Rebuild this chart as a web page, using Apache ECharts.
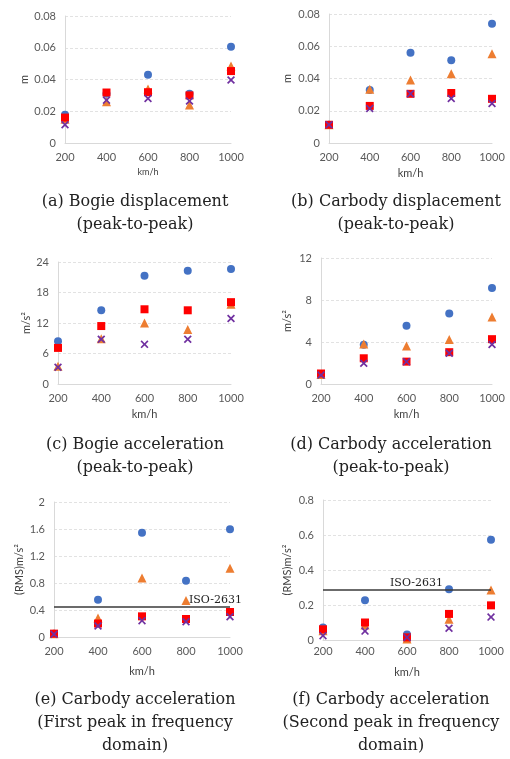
<!DOCTYPE html>
<html>
<head>
<meta charset="utf-8">
<script src="https://cdn.jsdelivr.net/npm/echarts@6/dist/echarts.min.js"></script>
<style>
  html, body { margin: 0; padding: 0; background: #fff; }
  #chart { width: 510px; height: 759px; }
</style>
</head>
<body>
<div id="chart"></div>
<script>
// speeds on the x axis (km/h)
var speeds = [200, 400, 600, 800, 1000];

// (a) bogie displacement, m
var aBlue   = [0.0178, 0.031, 0.043, 0.031, 0.0606];
var aOrange = [0.015, 0.026, 0.034, 0.024, 0.0485];
var aRed    = [0.016, 0.0318, 0.032, 0.030, 0.0453];
var aPurple = [0.0115, 0.027, 0.028, 0.0265, 0.0397];

// (b) carbody displacement, m
var bBlue   = [0.0113, 0.0328, 0.056, 0.0513, 0.074];
var bOrange = [0.0113, 0.0334, 0.039, 0.043, 0.0553];
var bRed    = [0.0113, 0.023, 0.0305, 0.031, 0.0274];
var bPurple = [0.0113, 0.0214, 0.0305, 0.0276, 0.0245];

// (c) bogie acceleration, m/s2
var cBlue   = [8.4, 14.5, 21.3, 22.3, 22.6];
var cOrange = [3.5, 8.9, 12.0, 10.7, 15.7];
var cRed    = [7.1, 11.4, 14.7, 14.5, 16.1];
var cPurple = [3.3, 8.8, 7.8, 8.8, 12.9];

// (d) carbody acceleration, m/s2
var dBlue   = [0.95, 3.73, 5.54, 6.72, 9.14];
var dOrange = [0.9, 3.8, 3.63, 4.24, 6.37];
var dRed    = [1.0, 2.45, 2.13, 3.03, 4.27];
var dPurple = [0.85, 1.97, 2.13, 2.93, 3.76];

// (e) first peak, RMS m/s2
var eBlue   = [0.05, 0.553, 1.546, 0.835, 1.595];
var eOrange = [0.05, 0.28, 0.874, 0.54, 1.017];
var eRed    = [0.05, 0.2, 0.306, 0.267, 0.37];
var ePurple = [0.04, 0.163, 0.242, 0.227, 0.30];

// (f) second peak, RMS m/s2
var fBlue   = [0.072, 0.227, 0.032, 0.29, 0.573];
var fOrange = [0.053, 0.086, 0.006, 0.118, 0.286];
var fRed    = [0.061, 0.10, 0.015, 0.149, 0.198];
var fPurple = [0.025, 0.051, 0.015, 0.067, 0.131];

// ISO-2631 limits
var eIso = 0.45;
var fIso = 0.29;

var panels = [
  {data: [aBlue, aOrange, aRed, aPurple], max: 0.08, step: 0.02, yName: 'm', caption: '(a) Bogie displacement\n(peak-to-peak)'},
  {data: [bBlue, bOrange, bRed, bPurple], max: 0.08, step: 0.02, yName: 'm', caption: '(b) Carbody displacement\n(peak-to-peak)'},
  {data: [cBlue, cOrange, cRed, cPurple], max: 24, step: 6, yName: 'm/s²', caption: '(c) Bogie acceleration\n(peak-to-peak)'},
  {data: [dBlue, dOrange, dRed, dPurple], max: 12, step: 4, yName: 'm/s²', caption: '(d) Carbody acceleration\n(peak-to-peak)'},
  {data: [eBlue, eOrange, eRed, ePurple], max: 2, step: 0.4, yName: '(RMS)m/s²', iso: eIso, isoPos: 'insideEndTop', isoDist: [-12, 1], caption: '(e) Carbody acceleration\n(First peak in frequency\ndomain)'},
  {data: [fBlue, fOrange, fRed, fPurple], max: 0.8, step: 0.2, yName: '(RMS)m/s²', iso: fIso, isoPos: 'insideStartTop', isoDist: [67, 1], caption: '(f) Carbody acceleration\n(Second peak in frequency\ndomain)'}
];

// layout of each plot area
var boxes = [
  {left: 65, top: 16, width: 166, height: 127, yGap: 35, xGap: 25, xFont: 9, lblMargin: 9, capX: 130, capY: 185},
  {left: 329, top: 14, width: 163, height: 129, yGap: 36, xGap: 25, xFont: 11, lblMargin: 9, capX: 391, capY: 185},
  {left: 58, top: 262, width: 173, height: 122, yGap: 24, xGap: 25, xFont: 11, lblMargin: 9, capX: 130, capY: 428},
  {left: 321, top: 258, width: 171, height: 126, yGap: 28, xGap: 25, xFont: 11, lblMargin: 9, capX: 386, capY: 428},
  {left: 54, top: 502, width: 176, height: 135, yGap: 29, xGap: 29, xFont: 11, lblMargin: 9, capX: 130, capY: 683},
  {left: 323, top: 500, width: 168, height: 140, yGap: 30, xGap: 27, xFont: 11, lblMargin: 6, capX: 386, capY: 683}
];

var colors = ['#4472C4', '#ED7D31', '#FF0000', '#7030A0'];
var symbols = ['circle', 'triangle', 'rect', 'path://M0,1.5L1.5,0L5,3.5L8.5,0L10,1.5L6.5,5L10,8.5L8.5,10L5,6.5L1.5,10L0,8.5L3.5,5Z'];
var sizes = [8, 9, 8, 8];
var tickFont = 'Lato, "Open Sans", sans-serif';

var grid = [], xAxis = [], yAxis = [], series = [], title = [];

panels.forEach(function (p, i) {
  var b = boxes[i];
  grid.push({left: b.left, top: b.top, width: b.width, height: b.height});
  xAxis.push({
    type: 'value', gridIndex: i, min: 200, max: 1000, interval: 200,
    name: 'km/h', nameLocation: 'middle', nameGap: b.xGap,
    nameTextStyle: {fontFamily: tickFont, fontSize: b.xFont, color: '#404040'},
    axisLine: {show: true, lineStyle: {color: '#D9D9D9'}},
    axisTick: {show: false},
    splitLine: {show: false},
    axisLabel: {fontFamily: tickFont, fontSize: 11, color: '#595959', margin: b.lblMargin,
                formatter: function (v) { return String(v); }}
  });
  yAxis.push({
    type: 'value', gridIndex: i, min: 0, max: p.max, interval: p.step,
    name: p.yName, nameLocation: 'middle', nameGap: b.yGap, nameRotate: 90,
    nameTextStyle: {fontFamily: tickFont, fontSize: 11, color: '#404040'},
    axisLine: {show: true, lineStyle: {color: '#D9D9D9'}},
    axisTick: {show: false},
    splitLine: {show: true, lineStyle: {color: '#E2E2E2', type: [3, 2]}},
    axisLabel: {fontFamily: tickFont, fontSize: 11, color: '#595959', margin: 9}
  });
  p.data.forEach(function (vals, k) {
    var s = {
      type: 'scatter', xAxisIndex: i, yAxisIndex: i,
      symbol: symbols[k], symbolSize: sizes[k],
      itemStyle: {color: colors[k], opacity: 1},
      data: speeds.map(function (v, j) { return [v, vals[j]]; })
    };
    if (k === 0 && p.iso != null) {
      s.markLine = {
        silent: true, symbol: 'none', animation: false,
        lineStyle: {color: '#3A3A3A', width: 1.5, type: 'solid'},
        label: {show: true, position: p.isoPos, formatter: 'ISO-2631', distance: p.isoDist,
                fontFamily: '"DejaVu Serif", serif', fontSize: 11, color: '#222'},
        data: [{yAxis: p.iso}]
      };
    }
    series.push(s);
  });
  title.push({
    text: p.caption, left: b.capX, top: b.capY, textAlign: 'center',
    textStyle: {fontFamily: '"DejaVu Serif", serif', fontWeight: 'normal', fontSize: 16, lineHeight: 23, color: '#222'}
  });
});

var chart = echarts.init(document.getElementById('chart'));
chart.setOption({
  animation: false,
  title: title,
  grid: grid,
  xAxis: xAxis,
  yAxis: yAxis,
  series: series
});
</script>
</body>
</html>
